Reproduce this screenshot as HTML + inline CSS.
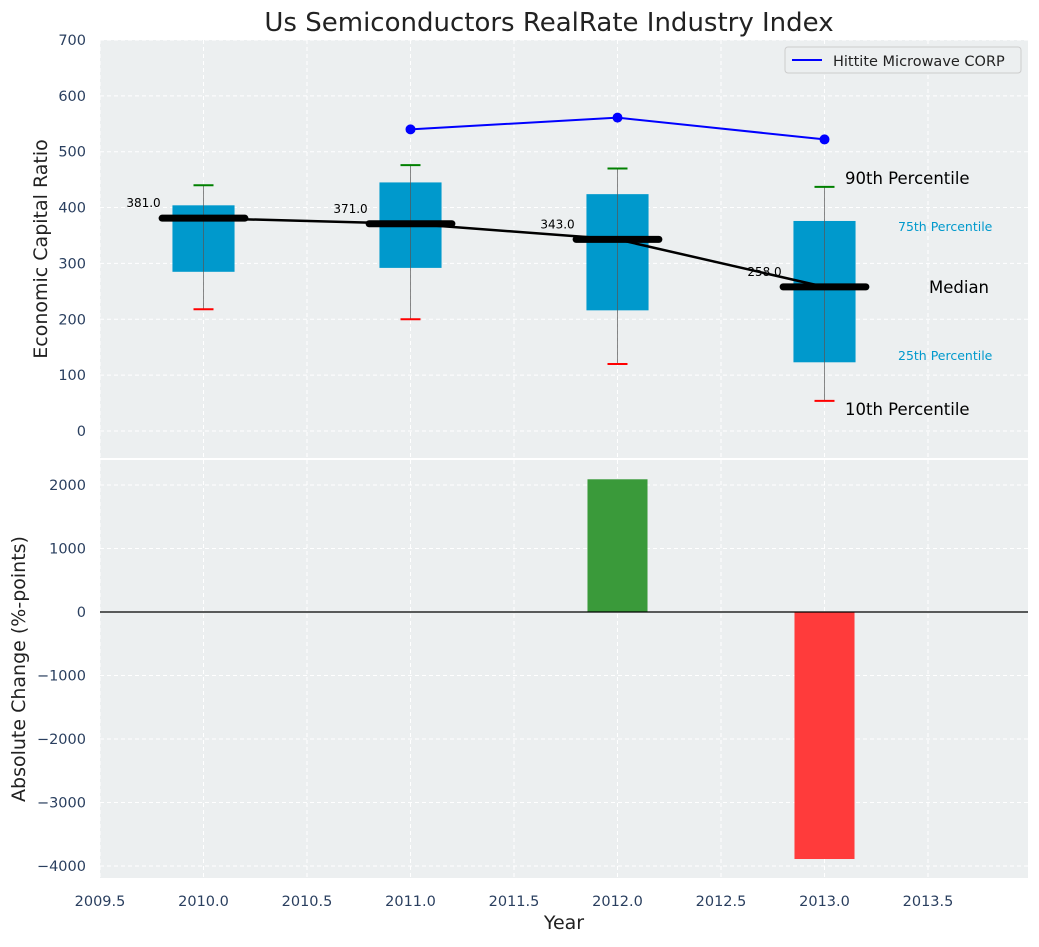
<!DOCTYPE html>
<html><head><meta charset="utf-8"><style>
body{margin:0;background:#fff;font-family:"Liberation Sans","DejaVu Sans",sans-serif}
svg text{font-family:"DejaVu Sans","Liberation Sans",sans-serif}
</style></head><body>
<svg id="c" width="1039" height="942" xmlns="http://www.w3.org/2000/svg">
<text x="549" y="31" font-size="26" fill="#222" text-anchor="middle">Us Semiconductors RealRate Industry Index</text>
<rect x="100" y="40" width="928" height="418" fill="#eceff0"/>
<rect x="100" y="460" width="928" height="418" fill="#eceff0"/>
<g id="g"></g>
<text transform="translate(47,249) rotate(-90)" font-size="19" fill="#222" text-anchor="middle">Economic Capital Ratio</text>
<text transform="translate(25,669) rotate(-90)" font-size="19" fill="#222" text-anchor="middle">Absolute Change (%-points)</text>
<text x="564" y="929" font-size="19" fill="#222" text-anchor="middle">Year</text>
<g>
<rect x="785" y="47" width="236" height="26" fill="#eceff0" stroke="#ccc" rx="3"/>
<line x1="792" y1="60" x2="822" y2="60" stroke="#0000ff" stroke-width="2"/>
<text x="833" y="66" font-size="14.5" fill="#222">Hittite Microwave CORP</text>
</g>
<text x="845" y="184" font-size="16.5" fill="#000">90th Percentile</text>
<text x="898" y="231" font-size="12.5" fill="#0099cc">75th Percentile</text>
<text x="929" y="293" font-size="16.5" fill="#000">Median</text>
<text x="898" y="360" font-size="12.5" fill="#0099cc">25th Percentile</text>
<text x="845" y="415" font-size="16.5" fill="#000">10th Percentile</text>
</svg>
<script>
const years=[2010,2011,2012,2013];
const p10=[218,200,120,54];
const p25=[285,292,216,123];
const median=[381,371,343,258];
const p75=[404,445,424,376];
const p90=[440,476,470,437];
const compYears=[2011,2012,2013];
const compValues=[540,561,522];
const changeYears=[2012,2013];
const changeValues=[2090,-3890];
const xTicks=[2009.5,2010,2010.5,2011,2011.5,2012,2012.5,2013,2013.5];
const yTopTicks=[0,100,200,300,400,500,600,700];
const yBotTicks=[-4000,-3000,-2000,-1000,0,1000,2000];
const NS='http://www.w3.org/2000/svg';
const g=document.getElementById('g');
const X=v=>100+(v-2009.5)*207;
const Y1=v=>431-v*0.5586;
const Y2=v=>612-v*0.0635;
function el(t,a,p){const e=document.createElementNS(NS,t);for(const k in a)e.setAttribute(k,a[k]);(p||g).appendChild(e);return e;}
xTicks.forEach(t=>{
  [[40,458],[460,878]].forEach(r=>{const l=el('line',{x1:X(t),x2:X(t),y1:r[0],y2:r[1],stroke:'#fff','stroke-dasharray':'4,3','stroke-width':1});});
  const tx=el('text',{x:X(t),y:906,'font-size':14.5,fill:'#2a3f5f','text-anchor':'middle'});tx.textContent=t.toFixed(1);
  
});
yTopTicks.forEach(t=>{
  const l=el('line',{x1:100,x2:1028,y1:Y1(t),y2:Y1(t),stroke:'#fff','stroke-dasharray':'4,3'});
  
  const tx=el('text',{x:86,y:Y1(t)+5,'font-size':14.5,fill:'#2a3f5f','text-anchor':'end'});tx.textContent=t;
  
});
yBotTicks.forEach(t=>{
  const l=el('line',{x1:100,x2:1028,y1:Y2(t),y2:Y2(t),stroke:'#fff','stroke-dasharray':'4,3'});
  
  const tx=el('text',{x:86,y:Y2(t)+5,'font-size':14.5,fill:'#2a3f5f','text-anchor':'end'});tx.textContent=t<0?'\u2212'+(-t):t;
  
});
years.forEach((yr,i)=>{
  const x=X(yr),hw=0.15*207;
  const b=el('rect',{x:x-hw,y:Y1(p75[i]),width:2*hw,height:Y1(p25[i])-Y1(p75[i]),fill:'#0099cc'});
  
  const w=el('line',{x1:x,x2:x,y1:Y1(p90[i]),y2:Y1(p10[i]),stroke:'#555','stroke-opacity':0.7,'stroke-width':1});
  
  const c1=el('line',{x1:x-10,x2:x+10,y1:Y1(p90[i]),y2:Y1(p90[i]),stroke:'green','stroke-width':2});
  
  const c2=el('line',{x1:x-10,x2:x+10,y1:Y1(p10[i]),y2:Y1(p10[i]),stroke:'red','stroke-width':2});
  
});
const ml=el('polyline',{points:years.map((y,i)=>X(y)+','+Y1(median[i])).join(' '),fill:'none',stroke:'#000','stroke-width':2.5});

years.forEach((yr,i)=>{
  const x=X(yr);
  const m=el('line',{x1:x-0.2*207,x2:x+0.2*207,y1:Y1(median[i]),y2:Y1(median[i]),stroke:'#000','stroke-width':7,'stroke-linecap':'round'});
  
  const t=el('text',{x:x-60,y:Y1(median[i])-11,'font-size':12,fill:'#000','text-anchor':'middle'});t.textContent=median[i].toFixed(1);
  
});
const cl=el('polyline',{points:compYears.map((y,i)=>X(y)+','+Y1(compValues[i])).join(' '),fill:'none',stroke:'#0000ff','stroke-width':2});

compYears.forEach((y,i)=>{const p=el('circle',{cx:X(y),cy:Y1(compValues[i]),r:5,fill:'#0000ff'});
  });
changeYears.forEach((y,i)=>{
  const v=changeValues[i],hw=0.145*207;
  const r=el('rect',{x:X(y)-hw,y:Math.min(Y2(v),Y2(0)),width:2*hw,height:Math.abs(Y2(v)-Y2(0)),fill:v>=0?'#3a9a3a':'#ff3b3b'});
  
});
const z=el('line',{x1:100,x2:1028,y1:Y2(0),y2:Y2(0),stroke:'#000','stroke-width':1.2});

</script>
</body></html>
